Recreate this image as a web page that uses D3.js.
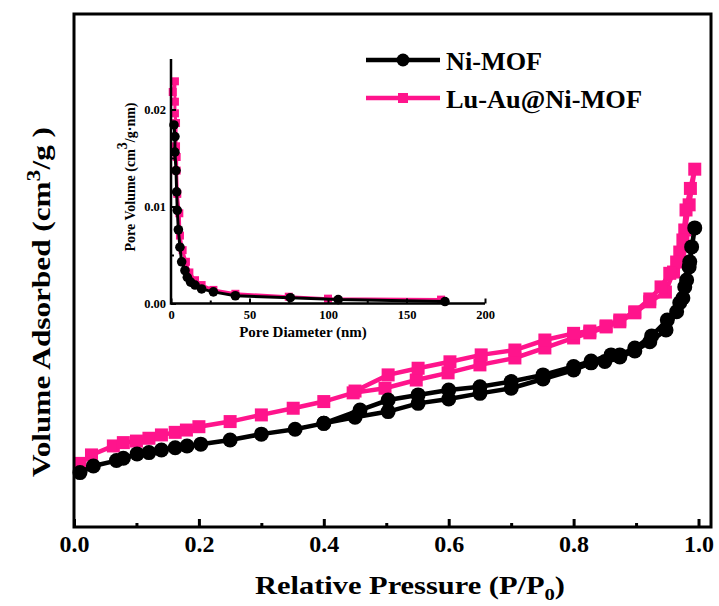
<!DOCTYPE html>
<html>
<head>
<meta charset="utf-8">
<script src="https://cdn.jsdelivr.net/npm/d3@7"></script>
<style>
  body { margin: 0; background: #fff; }
  text { font-family: "Liberation Serif", "Times New Roman", serif; font-weight: bold; }
</style>
</head>
<body>
<div id="chart"></div>
<script>
// isotherm data, relative pressure vs volume adsorbed (arbitrary units, no y labels in figure)
var niAdsP = [0.0096, 0.031, 0.068, 0.079, 0.101, 0.12, 0.14, 0.162, 0.181, 0.203, 0.25, 0.30, 0.354, 0.40, 0.45, 0.503, 0.551, 0.60, 0.65, 0.70, 0.751, 0.80, 0.828, 0.85, 0.874, 0.898, 0.922, 0.948, 0.965, 0.975, 0.981, 0.986, 0.994];
var niAdsV = [21.2, 23.8, 25.9, 26.8, 28.5, 29.0, 30.0, 30.9, 31.6, 32.3, 33.9, 36.2, 38.1, 40.4, 42.8, 45.0, 48.2, 49.9, 52.1, 54.1, 57.7, 61.2, 64.0, 64.5, 66.3, 68.6, 72.2, 76.8, 83.9, 89.3, 96.3, 103.4, 116.6];
var niDesP = [0.989, 0.985, 0.978, 0.97, 0.95, 0.925, 0.898, 0.874, 0.86, 0.828, 0.80, 0.751, 0.70, 0.65, 0.60, 0.551, 0.503, 0.458, 0.40];
var niDesV = [109.2, 101.4, 93.6, 87.4, 80.7, 74.5, 69.8, 67.1, 67.1, 64.7, 62.6, 59.3, 56.7, 54.7, 53.4, 51.5, 49.5, 45.6, 40.4];

var luAdsP = [0.0096, 0.028, 0.063, 0.079, 0.10, 0.12, 0.14, 0.162, 0.18, 0.20, 0.25, 0.30, 0.351, 0.40, 0.447, 0.498, 0.548, 0.599, 0.65, 0.706, 0.754, 0.80, 0.826, 0.852, 0.874, 0.898, 0.922, 0.947, 0.96, 0.97, 0.978, 0.985, 0.994];
var luAdsV = [24.8, 28.1, 31.6, 32.9, 33.5, 34.6, 35.9, 36.9, 37.8, 39.1, 41.1, 43.7, 46.3, 48.9, 52.3, 54.1, 57.3, 60.1, 63.2, 65.9, 69.8, 73.7, 75.7, 78.0, 80.0, 83.5, 87.8, 91.6, 99.4, 107.2, 115.8, 125.6, 139.5];
var luDesP = [0.987, 0.98, 0.975, 0.965, 0.954, 0.94, 0.922, 0.898, 0.874, 0.852, 0.826, 0.80, 0.754, 0.706, 0.652, 0.602, 0.551, 0.503, 0.45];
var luDesV = [132.0, 123.6, 111.9, 103.3, 98.9, 93.6, 88.9, 83.9, 80.7, 78.4, 76.4, 75.5, 72.9, 69.0, 67.1, 64.4, 61.9, 59.3, 53.0];

// inset: pore size distribution
var niPoreD = [1.9, 2.5, 2.5, 3.2, 3.6, 4.0, 4.7, 5.7, 6.8, 8.9, 10.4, 12.5, 15.3, 19.5, 27, 41, 76, 106.5, 174.5];
var niPoreV = [0.0184, 0.0172, 0.0156, 0.0137, 0.0115, 0.0096, 0.0076, 0.0058, 0.0043, 0.0034, 0.0027, 0.0022, 0.0019, 0.0015, 0.0012, 0.0008, 0.0006, 0.0004, 0.0002];
var luPoreD = [1.1, 2.5, 2.5, 2.5, 3.2, 3.2, 3.6, 3.6, 4.0, 5.3, 5.7, 7.4, 9.5, 11.7, 15.3, 19.5, 27, 41, 75, 100, 172];
var luPoreV = [0.0218, 0.0229, 0.0208, 0.0196, 0.0186, 0.0162, 0.0151, 0.0137, 0.0113, 0.0093, 0.0070, 0.0055, 0.0043, 0.0032, 0.0024, 0.0019, 0.0014, 0.0010, 0.0007, 0.0005, 0.0004];

var seriesNames = ["Ni-MOF", "Lu-Au@Ni-MOF"];
var xTicks = [0.0, 0.2, 0.4, 0.6, 0.8, 1.0];
var insetXTicks = [0, 50, 100, 150, 200];
var insetYTicks = [0.00, 0.01, 0.02];

var black = "#000", pink = "#ff148c";

function zip(a, b) { return a.map(function(d, i) { return [d, b[i]]; }); }

var svg = d3.select("#chart").append("svg")
	.attr("width", 719)
	.attr("height", 606);

// main plot
var x = d3.scaleLinear().domain([0, 1.02]).range([74, 711]);
var y = d3.scaleLinear().domain([0, 200]).range([527, 14]);

var line = d3.line()
	.x(function(d) { return x(d[0]); })
	.y(function(d) { return y(d[1]); });

var main = [
	{ pts: zip(luAdsP, luAdsV).concat(zip(luDesP, luDesV)), color: pink, shape: "square" },
	{ pts: zip(niAdsP, niAdsV).concat(zip(niDesP, niDesV)), color: black, shape: "circle" }
];

main.forEach(function(s) {
	svg.append("path")
		.datum(s.pts)
		.attr("fill", "none")
		.attr("stroke", s.color)
		.attr("stroke-width", 4.5)
		.attr("d", line);
	drawMarks(svg, s.pts, s.shape, s.color, x, y, s.shape == "circle" ? 7.5 : 13);
});

function drawMarks(g, pts, shape, color, sx, sy, size) {
	if (shape == "circle") {
		g.selectAll(null).data(pts).enter().append("circle")
			.attr("cx", function(d) { return sx(d[0]); })
			.attr("cy", function(d) { return sy(d[1]); })
			.attr("r", size)
			.attr("fill", color);
	} else {
		g.selectAll(null).data(pts).enter().append("rect")
			.attr("x", function(d) { return sx(d[0]) - size / 2; })
			.attr("y", function(d) { return sy(d[1]) - size / 2; })
			.attr("width", size)
			.attr("height", size)
			.attr("fill", color);
	}
}

// frame
svg.append("rect")
	.attr("x", 74).attr("y", 14)
	.attr("width", 637).attr("height", 513)
	.attr("fill", "none")
	.attr("stroke", "#000")
	.attr("stroke-width", 3);

var xAxis = svg.append("g")
	.attr("transform", "translate(0,527)")
	.call(d3.axisBottom(x).tickValues(xTicks).tickSize(-8).tickFormat(d3.format(".1f")));
svg.append("g")
	.attr("transform", "translate(0,527)")
	.call(d3.axisBottom(x).tickValues([0.1, 0.3, 0.5, 0.7, 0.9]).tickSize(-4).tickFormat(""));
svg.selectAll(".domain").remove();
svg.selectAll(".tick line").attr("stroke-width", 3);
xAxis.selectAll("text")
	.attr("y", 0)
	.attr("dy", 25)
	.attr("font-size", 24)
	.attr("fill", "#000");

// axis titles
var xt = svg.append("text")
	.attr("x", 255).attr("y", 594)
	.attr("font-size", 25)
	.attr("textLength", 310)
	.attr("lengthAdjust", "spacingAndGlyphs");
xt.append("tspan").text("Relative Pressure (P/P");
xt.append("tspan").attr("font-size", 17).attr("dy", 6).text("0");
xt.append("tspan").attr("dy", -6).text(")");

var yt = svg.append("text")
	.attr("transform", "translate(50,477) rotate(-90)")
	.attr("font-size", 25)
	.attr("textLength", 350)
	.attr("lengthAdjust", "spacingAndGlyphs");
yt.append("tspan").text("Volume Adsorbed (cm");
yt.append("tspan").attr("font-size", 19).attr("dy", -10).text("3");
yt.append("tspan").attr("dy", 10).text("/g )");

// legend
var legend = svg.append("g");
var legendWidths = [96, 196];
seriesNames.forEach(function(name, i) {
	var ly = 60 + i * 38;
	var c = i == 0 ? black : pink;
	legend.append("line")
		.attr("x1", 366).attr("x2", 440)
		.attr("y1", ly).attr("y2", ly)
		.attr("stroke", c).attr("stroke-width", 4.5);
	if (i == 0) {
		legend.append("circle").attr("cx", 403).attr("cy", ly).attr("r", 6.5).attr("fill", c);
	} else {
		legend.append("rect").attr("x", 398).attr("y", ly - 5).attr("width", 10).attr("height", 10).attr("fill", c);
	}
	legend.append("text")
		.attr("x", 446).attr("y", ly + 10)
		.attr("font-size", 25)
		.attr("textLength", legendWidths[i])
		.attr("lengthAdjust", "spacingAndGlyphs")
		.text(name);
});

// inset
var ix = d3.scaleLinear().domain([0, 200]).range([171, 485]);
var iy = d3.scaleLinear().domain([0, 0.0252]).range([303.5, 59]);
var inset = svg.append("g");

var iline = d3.line()
	.x(function(d) { return ix(d[0]); })
	.y(function(d) { return iy(d[1]); });

var insetSeries = [
	{ pts: zip(luPoreD, luPoreV), color: pink, shape: "square" },
	{ pts: zip(niPoreD, niPoreV), color: black, shape: "circle" }
];
insetSeries.forEach(function(s) {
	inset.append("path")
		.datum(s.pts)
		.attr("fill", "none")
		.attr("stroke", s.color)
		.attr("stroke-width", 3)
		.attr("d", iline);
	drawMarks(inset, s.pts, s.shape, s.color, ix, iy, s.shape == "circle" ? 4.8 : 8);
});

inset.append("path")
	.attr("d", "M" + ix(0) + "," + iy(0.0252) + "V" + iy(0) + "H" + ix(200))
	.attr("fill", "none")
	.attr("stroke", "#000")
	.attr("stroke-width", 2.5);

var ixAxis = inset.append("g")
	.attr("transform", "translate(0," + iy(0) + ")")
	.call(d3.axisBottom(ix).tickValues(insetXTicks).tickSize(-5));
inset.append("g")
	.attr("transform", "translate(0," + iy(0) + ")")
	.call(d3.axisBottom(ix).tickValues([25, 75, 125, 175]).tickSize(-3).tickFormat(""));
var iyAxis = inset.append("g")
	.attr("transform", "translate(" + ix(0) + ",0)")
	.call(d3.axisLeft(iy).tickValues(insetYTicks).tickSize(-5).tickFormat(d3.format(".2f")));
inset.append("g")
	.attr("transform", "translate(" + ix(0) + ",0)")
	.call(d3.axisLeft(iy).tickValues([0.005, 0.015]).tickSize(-3).tickFormat(""));
inset.selectAll(".domain").remove();
inset.selectAll(".tick line").attr("stroke-width", 2);
ixAxis.selectAll("text").attr("y", 0).attr("dy", 15).attr("font-size", 12.5).attr("fill", "#000");
iyAxis.selectAll("text").attr("x", -5).attr("dy", "0.3em").attr("font-size", 12.5).attr("fill", "#000");

inset.append("text")
	.attr("x", 303).attr("y", 337)
	.attr("text-anchor", "middle")
	.attr("font-size", 15)
	.text("Pore Diameter (nm)");

var iyt = inset.append("text")
	.attr("transform", "translate(135,177) rotate(-90)")
	.attr("text-anchor", "middle")
	.attr("font-size", 14);
iyt.append("tspan").text("Pore Volume (cm");
iyt.append("tspan").attr("font-size", 14).attr("dy", -8).text("3");
iyt.append("tspan").attr("dy", 8).text("/g\u00b7nm)");
</script>
</body>
</html>
